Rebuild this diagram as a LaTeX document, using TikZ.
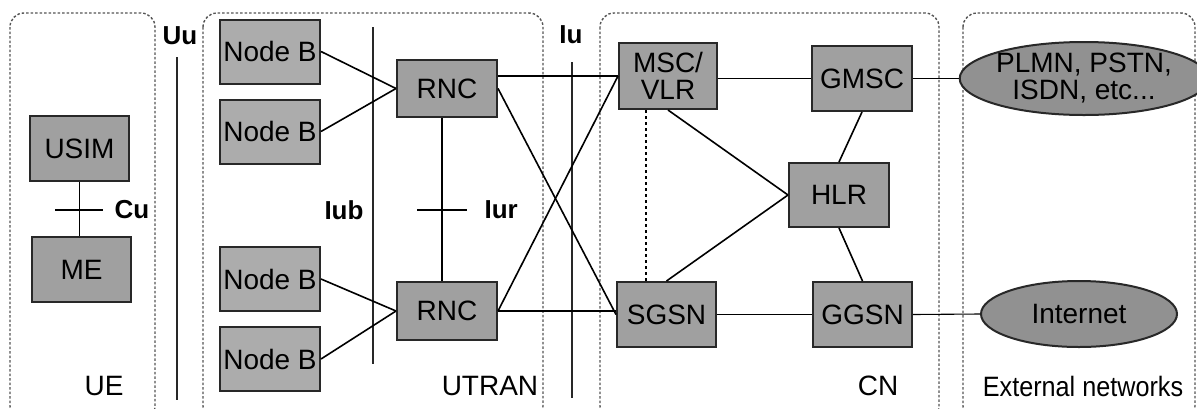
\documentclass[tikz,border=0pt]{standalone}
\usepackage{fontspec}
\setmainfont{Liberation Sans}
\usetikzlibrary{calc,shapes.geometric}
\definecolor{boxfill}{RGB}{160,160,160}
\definecolor{nbfill}{RGB}{172,172,172}
\definecolor{ellfill}{RGB}{145,145,145}
\definecolor{edgec}{RGB}{40,40,40}
\definecolor{zonec}{RGB}{85,85,85}
\tikzset{
  txt/.style={font=\fontsize{28}{30}\selectfont},
  btxt/.style={font=\fontsize{26}{28}\selectfont\bfseries},
  elem/.style={draw=edgec, line width=2pt, fill=boxfill, inner sep=0pt, align=center, font=\fontsize{28}{27}\selectfont},
  nbbox/.style={elem, fill=nbfill, minimum width=100pt, minimum height=64pt},
  ell/.style={ellipse, draw=edgec, line width=2pt, fill=ellfill, inner sep=0pt, align=center, font=\fontsize{28}{27}\selectfont},
  zone/.style={draw=zonec, line width=1.4pt, dash pattern=on 2.5pt off 2pt, rounded corners=14pt},
  iface/.style={draw=edgec, line width=2.8pt},
  link/.style={draw=black, line width=1.6pt},
  thinlink/.style={draw=black, line width=1.1pt},
}
\begin{document}
\begin{tikzpicture}[x=1pt,y=-1pt]
\useasboundingbox (0,0) rectangle (1197,408);
\fill[white] (0,0) rectangle (1197,408);
% zones
\draw[zone] (10,13) rectangle (155,420);
\draw[zone] (203,13) rectangle (543,420);
\draw[zone] (600,13) rectangle (939,420);
\draw[zone] (963,13) rectangle (1195,420);
% zone labels
\node[txt] (lue) at (104,386) {UE};
\node[txt] (lutran) at (490,386) {UTRAN};
\node[txt] (lcn) at (878,386) {CN};
\node[txt] (lext) at (1083,386) {\scalebox{0.9}[1]{External networks}};
% UE
\node[elem, minimum width=99pt, minimum height=65pt] (usim) at (79.5,148.5) {USIM};
\node[elem, minimum width=99pt, minimum height=65pt] (me) at (81.5,269.5) {ME};
\draw[link] (usim.south) -- (usim.south |- me.north);
\coordinate (cuL) at (55,210);
\coordinate (cuR) at (103,210);
\draw[link] (cuL) -- (cuR);
\node[btxt, anchor=west] (cu) at (111,210) {Cu};
% Uu
\coordinate (uuT) at (177,57);
\coordinate (uuB) at (177,400);
\draw[iface] (uuT) -- (uuB);
\node[btxt] (uu) at (180,36) {Uu};
% Node Bs
\node[nbbox] (nb1) at (270,51.5) {Node B};
\node[nbbox] (nb2) at (270,131.5) {Node B};
\node[nbbox] (nb3) at (270,279) {Node B};
\node[nbbox] (nb4) at (270,359) {Node B};
% Iub
\coordinate (iubT) at (373,27);
\coordinate (iubB) at (373,364);
\draw[iface] (iubT) -- (iubB);
\node[btxt] (iub) at (344,210) {Iub};
% RNCs
\node[elem, minimum width=100pt, minimum height=57pt] (rnc1) at (447,88.5) {RNC};
\node[elem, minimum width=100pt, minimum height=58pt] (rnc2) at (447,311) {RNC};
\draw[link] (nb1.east) -- (rnc1.west);
\draw[link] (nb2.east) -- (rnc1.west);
\draw[link] (nb3.east) -- (rnc2.west);
\draw[link] (nb4.east) -- (rnc2.west);
% Iur
\coordinate (iurT) at ($(rnc1.south)+(-5,0)$);
\draw[link] (iurT) -- (iurT |- rnc2.north);
\coordinate (iurL) at (417,210);
\coordinate (iurR) at (467,210);
\draw[link] (iurL) -- (iurR);
\node[btxt, anchor=west] (iur) at (481,210) {Iur};
% Iu
\coordinate (iuT) at (572,62);
\coordinate (iuB) at (572,398);
\draw[iface] (iuT) -- (iuB);
\node[btxt] (iu) at (571,35) {Iu};
% CN
\node[elem, minimum width=98pt, minimum height=66pt] (msc) at (668,76) {MSC/\\VLR};
\node[elem, minimum width=99pt, minimum height=65pt] (sgsn) at (666.5,314.5) {SGSN};
\node[elem, minimum width=100pt, minimum height=65pt] (gmsc) at (862,78.5) {GMSC};
\node[elem, minimum width=100pt, minimum height=64pt] (hlr) at (839,195) {HLR};
\node[elem, minimum width=99pt, minimum height=65pt] (ggsn) at (862.5,314.5) {GGSN};
% external
\node[ell, minimum width=224pt, minimum height=73pt] (plmn) at (1084,78.5) {PLMN, PSTN,\\ISDN, etc...};
\node[ell, minimum width=196pt, minimum height=66pt] (inet) at (1079,314) {Internet};
% links
\draw[link] (rnc1.east |- msc.west) -- (msc.west);
\draw[link] (rnc1.east) -- (sgsn.west);
\draw[link] (rnc2.east) -- (msc.west);
\draw[thinlink] (rnc2.east) -- (rnc2.east -| sgsn.west);
\draw[link] (msc.east |- gmsc.west) -- (gmsc.west);
\draw[link] (gmsc.east) -- (plmn.west);
\coordinate (dv) at ($(msc.south west)+(28,0)$);
\draw[thinlink, dashed] (dv) -- (dv |- sgsn.north);
\draw[link] (msc.south) -- (hlr.west);
\draw[link] (sgsn.north) -- (hlr.west);
\draw[link] (gmsc.south) -- (hlr.north);
\draw[link] (hlr.south) -- (ggsn.north);
\draw[thinlink] (sgsn.east) -- (ggsn.west);
\draw[thinlink] (ggsn.east) -- (inet.west);
\end{tikzpicture}
\end{document}
